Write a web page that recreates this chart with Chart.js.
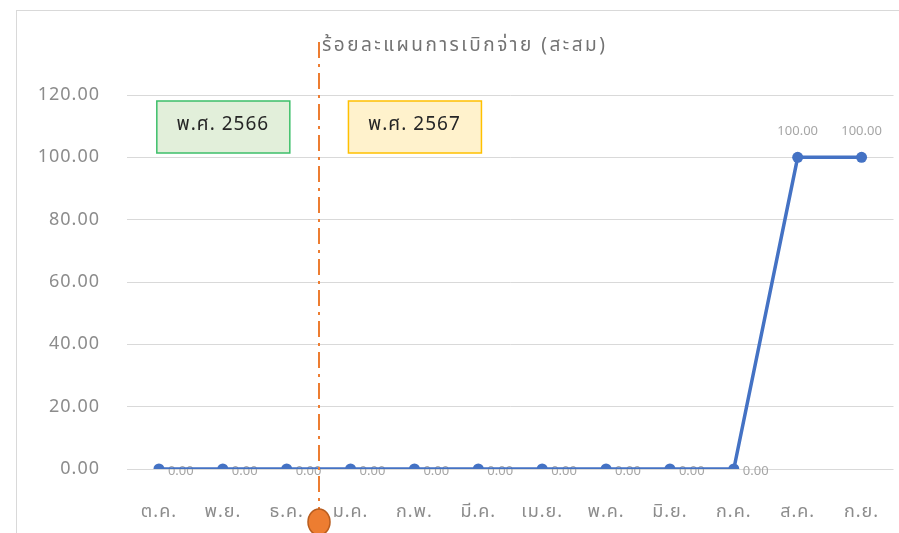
<!DOCTYPE html>
<html>
<head>
<meta charset="utf-8">
<script src="https://cdn.jsdelivr.net/npm/chart.js@4"></script>
<style>
  html, body { margin: 0; padding: 0; background: #ffffff; }
  #wrap { position: relative; width: 899px; height: 533px; }
</style>
</head>
<body>
<div id="wrap"><canvas id="budgetChart" width="899" height="533"></canvas></div>
<script>
const months = ["ต.ค.", "พ.ย.", "ธ.ค.", "ม.ค.", "ก.พ.", "มี.ค.", "เม.ย.", "พ.ค.", "มิ.ย.", "ก.ค.", "ส.ค.", "ก.ย."];
const percentSpent = [0, 0, 0, 0, 0, 0, 0, 0, 0, 0, 100, 100];
const yTicks = [0, 20, 40, 60, 80, 100, 120];
const chartTitle = "ร้อยละแผนการเบิกจ่าย (สะสม)";
const yearLabels = ["พ.ศ. 2566", "พ.ศ. 2567"];

const thaiFont = "'Noto Sans', 'Noto Sans Thai', 'Loma', sans-serif";

// frame, title, year boxes, year divider
const decorations = {
  id: "decorations",
  beforeDraw(chart) {
    const c = chart.ctx;
    c.fillStyle = "#ffffff";
    c.fillRect(0, 0, chart.width, chart.height);
    c.strokeStyle = "#d9d9d9";
    c.lineWidth = 1;
    c.strokeRect(16.5, 10.5, 1000, 1000);
    // wider text like the original rendering
    c.letterSpacing = "1px";
  },
  afterDraw(chart) {
    const c = chart.ctx;
    const x = chart.scales.x;
    c.save();

    // title
    c.letterSpacing = "2.5px";
    c.font = "19px " + thaiFont;
    c.fillStyle = "#737373";
    c.textAlign = "left";
    c.textBaseline = "middle";
    c.fillText(chartTitle, 322, 46);
    c.letterSpacing = "1px";

    // year boxes
    const boxes = [
      { idx: 1, fill: "#e2efda", stroke: "#3dbf6a" },
      { idx: 4, fill: "#fff2cc", stroke: "#ffc000" },
    ];
    boxes.forEach((b, i) => {
      const cx = x.getPixelForValue(b.idx);
      c.fillStyle = b.fill;
      c.fillRect(cx - 66, 101, 133, 52);
      c.strokeStyle = b.stroke;
      c.lineWidth = 1.5;
      c.strokeRect(cx - 66, 101, 133, 52);
      c.fillStyle = "#262626";
      c.font = "19px " + thaiFont;
      c.textAlign = "center";
      c.textBaseline = "middle";
      c.fillText(yearLabels[i], cx, 125);
    });

    // divider between the two fiscal years
    const dx = Math.round(x.getPixelForValue(2.5));
    c.strokeStyle = "#ed7d31";
    c.lineWidth = 2;
    c.setLineDash([16, 6, 3, 6]);
    c.beginPath();
    c.moveTo(dx, 42);
    c.lineTo(dx, 510);
    c.stroke();
    c.setLineDash([]);
    c.beginPath();
    c.ellipse(dx, 522, 11, 13, 0, 0, Math.PI * 2);
    c.fillStyle = "#ed7d31";
    c.fill();
    c.strokeStyle = "#b85d1f";
    c.lineWidth = 1.5;
    c.stroke();
    c.restore();
  },
  beforeDatasetsDraw(chart) {
    const c = chart.ctx;
    const meta = chart.getDatasetMeta(0);
    c.save();
    c.letterSpacing = "0px";
    c.font = "13px " + thaiFont;
    c.fillStyle = "#a6a6a6";
    meta.data.forEach((pt, i) => {
      const v = percentSpent[i];
      const txt = v.toFixed(2);
      if (v > 0) {
        c.textAlign = "center";
        c.textBaseline = "middle";
        c.fillText(txt, pt.x, pt.y - 26);
      } else {
        c.textAlign = "left";
        c.textBaseline = "middle";
        c.fillText(txt, pt.x + 9, pt.y + 2);
      }
    });
    c.restore();
  },
};

new Chart(document.getElementById("budgetChart"), {
  type: "line",
  data: {
    labels: months,
    datasets: [
      {
        data: percentSpent,
        borderColor: "#4472c4",
        backgroundColor: "#4472c4",
        borderWidth: 3.5,
        pointRadius: 5.5,
        pointBorderWidth: 0,
        pointBackgroundColor: "#4472c4",
        tension: 0,
      },
    ],
  },
  options: {
    responsive: false,
    animation: false,
    layout: {
      padding: { left: 0, right: 2, top: 95, bottom: 0 },
    },
    plugins: {
      legend: { display: false },
      title: { display: false },
      tooltip: { enabled: false },
    },
    scales: {
      x: {
        offset: true,
        grid: { display: false, drawTicks: false },
        border: { display: false },
        ticks: {
          color: "#8c8c8c",
          padding: 32,
          maxRotation: 0,
          font: { size: 18, family: thaiFont },
        },
        afterFit(scale) {
          scale.height = 64;
          scale.paddingLeft = 0;
          scale.paddingRight = 0;
        },
      },
      y: {
        min: 0,
        max: 120,
        afterBuildTicks(scale) {
          scale.ticks = yTicks.map((v) => ({ value: v }));
        },
        grid: { color: "#d9d9d9", lineWidth: 1, drawTicks: false },
        border: { display: false },
        ticks: {
          color: "#8c8c8c",
          padding: 27,
          font: { size: 18, family: thaiFont },
          callback: (v) => Number(v).toFixed(2),
        },
        afterFit(scale) {
          scale.width = 127;
          scale.paddingLeft = 0;
          scale.paddingRight = 0;
        },
      },
    },
  },
  plugins: [decorations],
});
</script>
</body>
</html>
